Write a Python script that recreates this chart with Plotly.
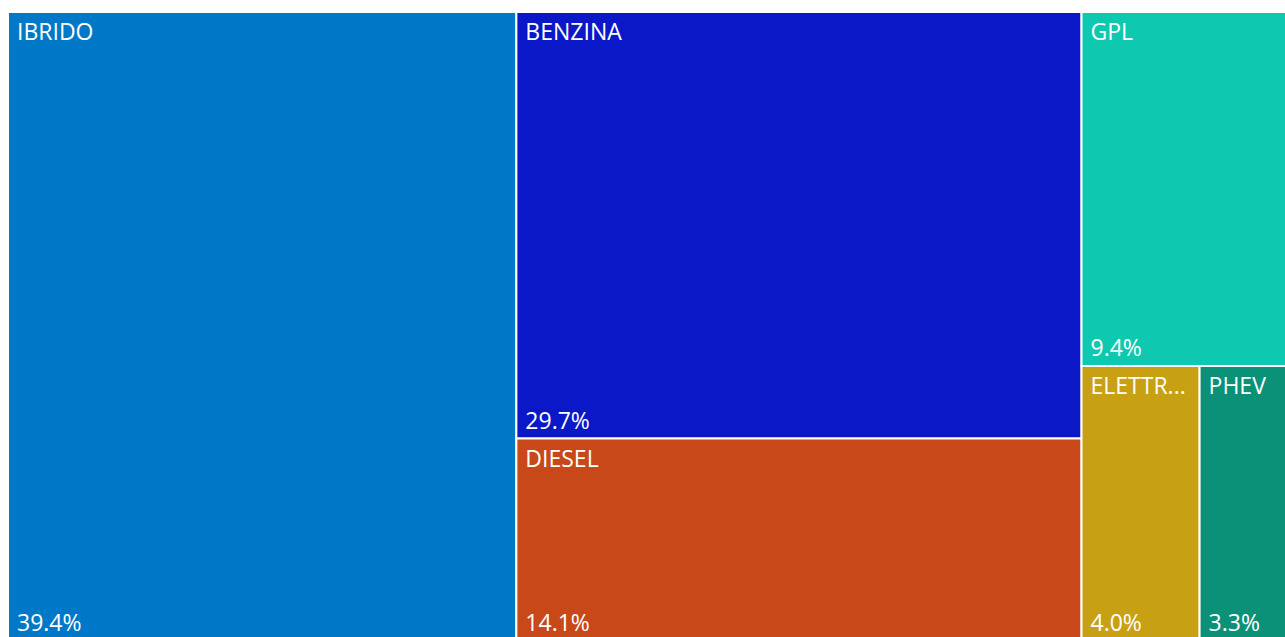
import plotly.graph_objects as go

categories = ["IBRIDO", "BENZINA", "DIESEL", "GPL", "ELETTRICO", "PHEV"]
display_labels = ["IBRIDO", "BENZINA", "DIESEL", "GPL", "ELETTR...", "PHEV"]
shares = [39.4, 29.7, 14.1, 9.4, 4.0, 3.3]
colors = ["#0078C8", "#0A18C8", "#C8481A", "#0EC8B0", "#C8A014", "#0A9178"]
pct_labels = [f"{v:.1f}%" for v in shares]
parents = [""] * len(categories)

FS = 23
font = dict(family="Open Sans", size=FS, color="white")
pad0 = dict(t=0, l=0, r=0, b=0)
NB = "\u00a0"

fig = go.Figure()
fig.add_trace(go.Treemap(
    labels=categories, parents=parents, values=shares,
    text=[NB + s for s in display_labels], texttemplate="%{text}", textposition="top left",
    marker=dict(colors=colors, line=dict(width=2, color="white"), pad=pad0),
    tiling=dict(packing="squarify", squarifyratio=1.618, pad=0),
    pathbar=dict(visible=False), sort=False, root=dict(color="rgba(0,0,0,0)"),
    textfont=font, hoverinfo="label+value",
))
fig.add_trace(go.Treemap(
    labels=categories, parents=parents, values=shares,
    text=[NB + s for s in pct_labels], texttemplate="%{text}", textposition="bottom left",
    marker=dict(colors=["rgba(0,0,0,0)"] * len(categories), line=dict(width=0), pad=pad0),
    tiling=dict(packing="squarify", squarifyratio=1.618, pad=0),
    pathbar=dict(visible=False), sort=False, root=dict(color="rgba(0,0,0,0)"),
    textfont=font, hoverinfo="skip",
))
fig.update_layout(
    width=1297, height=641,
    margin=dict(l=8, r=0, t=12, b=0),
    paper_bgcolor="white",
    uniformtext=dict(minsize=FS, mode="show"),
)
fig.write_html(
    "out.html",
    config={"displayModeBar": False},
    post_script="document.body.style.margin='0';document.documentElement.style.overflow='hidden';",
)
